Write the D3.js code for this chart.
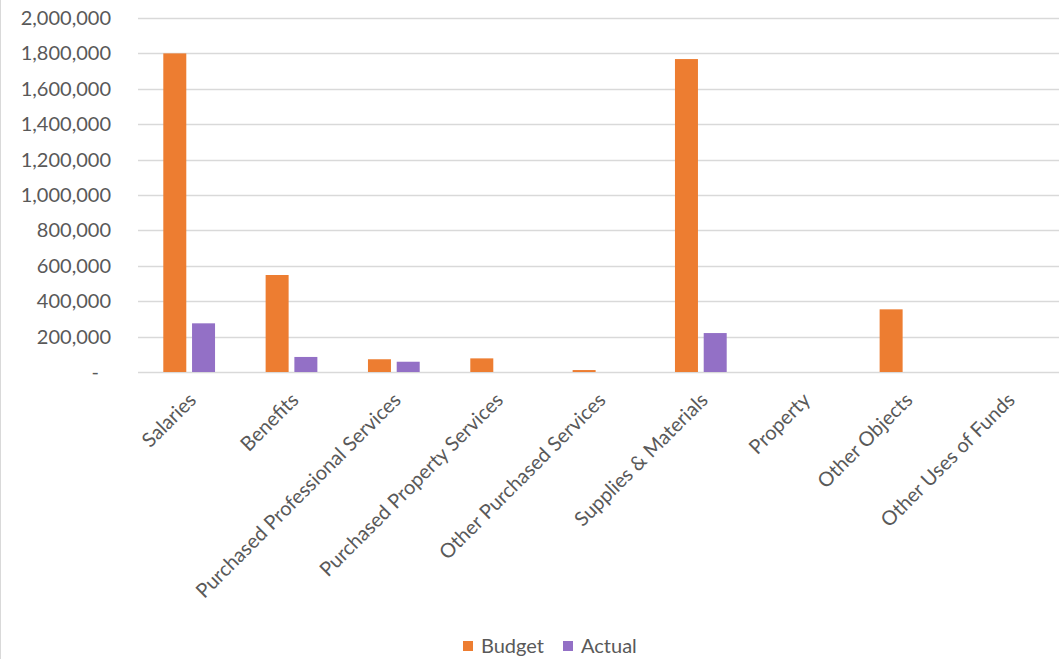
<!DOCTYPE html>
<html><head><meta charset="utf-8">
<script src="https://cdn.jsdelivr.net/npm/d3@7"></script>
<style>body{margin:0;background:#fff;}svg{display:block;}</style>
</head><body>
<script>
const categories = ["Salaries","Benefits","Purchased Professional Services","Purchased Property Services","Other Purchased Services","Supplies & Materials","Property","Other Objects","Other Uses of Funds"];
const budget = [1800000, 548000, 72000, 77000, 11000, 1768000, 0, 354000, 0];
const actual = [275000, 85000, 58000, 0, 0, 220000, 0, 0, 0];
const seriesNames = ["Budget","Actual"];
const seriesColors = ["#ED7D31","#9370C6"];
const yTicks = [0,200000,400000,600000,800000,1000000,1200000,1400000,1600000,1800000,2000000];

(function(){
const W = 1059, H = 659;
const svg = d3.select("body").append("svg").attr("width", W).attr("height", H);
svg.append("line").attr("x1",0.5).attr("x2",0.5).attr("y1",0).attr("y2",H).attr("stroke","#d9d9d9");

const mLeft = 138, mRight = 1059, mTop = 18, mBottom = 372;
const x = d3.scaleBand().domain(categories).range([mLeft, mRight]).paddingInner(0).paddingOuter(0);
const y = d3.scaleLinear().domain([0, 2000000]).range([mBottom, mTop]);
const x1 = d3.scaleBand().domain(seriesNames).range([0, x.bandwidth()]).paddingInner(0.2).paddingOuter(0.88);

const font = "Lato, Calibri, 'Liberation Sans', Arial, sans-serif";
const fs = "20px";
// grid
svg.append("g").selectAll("line").data(yTicks).join("line")
  .attr("x1", mLeft).attr("x2", mRight)
  .attr("y1", d => Math.round(y(d)) + 0.5).attr("y2", d => Math.round(y(d)) + 0.5)
  .attr("stroke", "#d9d9d9").attr("stroke-width", 1.5);

// y axis
const yAxis = d3.axisLeft(y).tickValues(yTicks).tickSize(0).tickPadding(0)
  .tickFormat(d => d === 0 ? "-" : d3.format(",")(d));
const ya = svg.append("g").attr("transform", `translate(111,0)`).call(yAxis);
ya.select(".domain").remove();
ya.selectAll("text").attr("fill", "#595959").style("font-family", font).style("font-size", fs);
ya.selectAll(".tick").filter(d => d === 0).select("text").attr("dx", -12);

// bars
const data = categories.map((c, i) => ({c, vals: [budget[i], actual[i]]}));
const g = svg.append("g").selectAll("g").data(data).join("g")
  .attr("transform", d => `translate(${x(d.c)},0)`);
g.selectAll("rect").data(d => d.vals.map((v, j) => ({s: seriesNames[j], v, j})))
  .join("rect")
  .attr("x", d => x1(d.s)).attr("width", x1.bandwidth())
  .attr("y", d => y(d.v)).attr("height", d => y(0) - y(d.v))
  .attr("fill", d => seriesColors[d.j]);

// x axis labels
const xAxis = d3.axisBottom(x).tickSize(0).tickPadding(0);
const xa = svg.append("g").attr("transform", `translate(0,${mBottom})`).call(xAxis);
xa.select(".domain").remove();
xa.selectAll("text").attr("fill", "#595959").style("font-family", font).style("font-size", fs)
  .attr("text-anchor", "end").attr("dy", null).attr("y", 0)
  .attr("transform", "translate(-3,18) rotate(-45)").attr("dominant-baseline", "hanging");

// legend
const legend = svg.append("g").attr("transform", "translate(463,646)");
const items = legend.selectAll("g").data(seriesNames).join("g")
  .attr("transform", (d, i) => `translate(${i * 100},0)`);
items.append("rect").attr("x", 0).attr("y", -5).attr("width", 10).attr("height", 10).attr("fill", (d, i) => seriesColors[i]);
items.append("text").attr("x", 18).attr("y", 0).attr("dy", "0.35em").text(d => d)
  .attr("fill", "#595959").style("font-family", font).style("font-size", fs);
})();
</script>
</body></html>
